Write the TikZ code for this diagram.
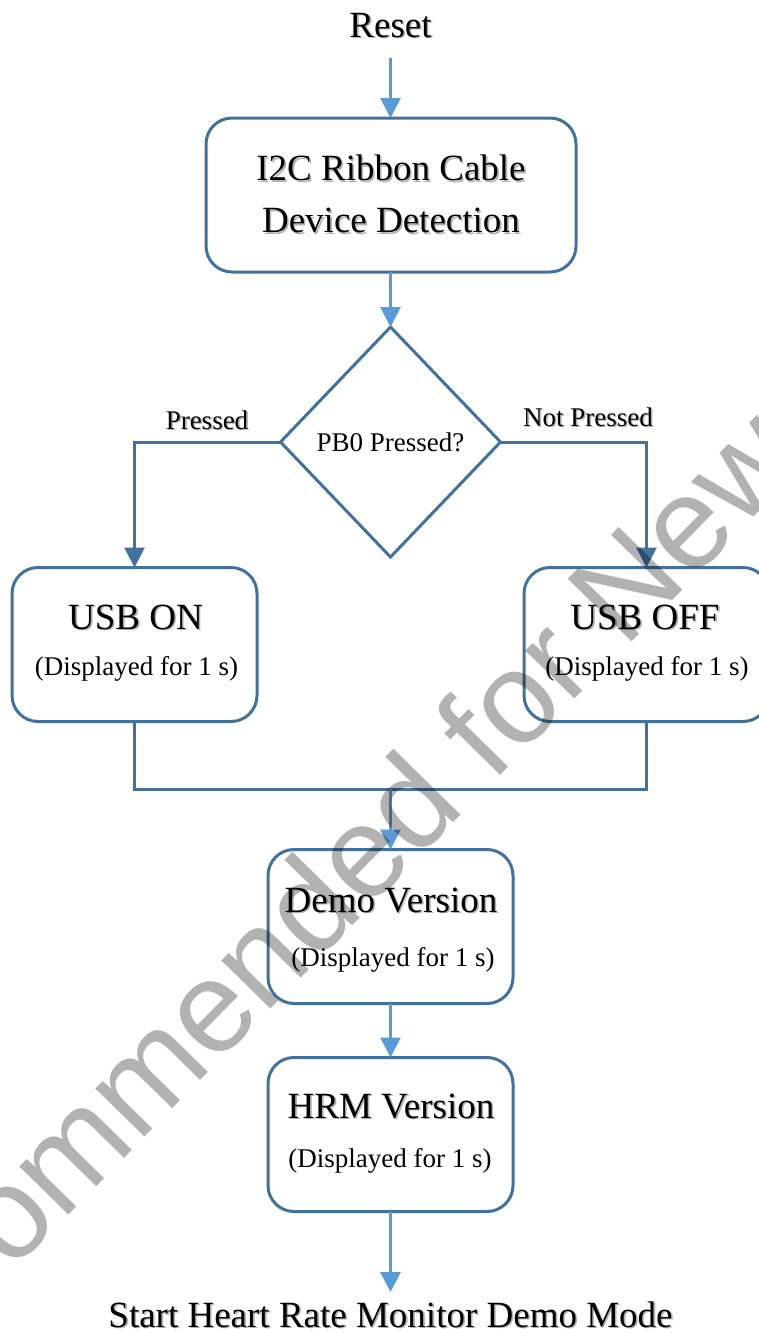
\documentclass[tikz,border=0pt]{standalone}
\usepackage{fontspec}
\setmainfont{Liberation Serif}
\newfontfamily\wmfont{Liberation Sans}
\usetikzlibrary{arrows.meta,shapes.geometric}
\definecolor{boxblue}{HTML}{41719C}
\definecolor{arrowblue}{HTML}{5B9BD5}
\newcommand\Shad[1]{\makebox[0pt][l]{\hspace{1.6pt}\raisebox{-1.6pt}{\textcolor{black!30}{#1}}}#1}

\begin{document}
\begin{tikzpicture}[y=-1pt,x=1pt,
	box/.style={draw=boxblue, line width=3pt, rounded corners=26pt, minimum width=245pt, minimum height=154pt, inner sep=0pt, outer sep=0pt},
	decision/.style={draw=boxblue, line width=3pt, diamond, minimum width=220pt, minimum height=230pt, inner sep=0pt, outer sep=0pt, font=\fontsize{27}{32}\selectfont},
	big/.style={anchor=base, inner sep=0pt, font=\fontsize{37}{44}\selectfont},
	small/.style={anchor=base, inner sep=0pt, font=\fontsize{27}{32}\selectfont},
	flow/.style={draw=arrowblue, line width=3pt, -{Triangle[width=20pt,length=20pt]}},
	branch/.style={draw=boxblue, line width=3pt, -{Triangle[width=20pt,length=20pt]}},
	joinline/.style={draw=boxblue, line width=3pt}]
	\newcommand\Shown{(Displayed for 1 s)}
	\useasboundingbox (0,0) rectangle (759,1333);

	\node[big] (reset) at (390.5,37) {\Shad{Reset}};
	\node[box, minimum width=370pt, align=center, font=\fontsize{37}{52}\selectfont] (detect) at (391,195) {\Shad{I2C Ribbon Cable}\\\Shad{Device Detection}};
	\node[decision] (pb) at (390.5,442) {PB0 Pressed?};
	\node[small] (pressed) at (207,429) {\Shad{Pressed}};
	\node[small] (notpressed) at (588,426) {\Shad{Not Pressed}};

	\node[box] (usbon) at (134.5,644.5) {};
	\node[big] (usbonA) at (135.5,629) {\Shad{USB ON}};
	\node[small] (usbonB) at (136.5,675) {\Shown};
	\node[box] (usboff) at (646.5,644.5) {};
	\node[big] (usboffA) at (645,629) {\Shad{USB OFF}};
	\node[small] (usboffB) at (647,675) {\Shown};

	\coordinate (join) at (390.5,789);
	\node[box] (demo) at (390.5,926.5) {};
	\node[big] (demoA) at (391,912) {\Shad{Demo Version}};
	\node[small] (demoB) at (393,966) {\Shown};
	\node[box] (hrm) at (390.5,1134.5) {};
	\node[big] (hrmA) at (391,1118) {\Shad{HRM Version}};
	\node[small] (hrmB) at (390,1167) {\Shown};
	\node[big] (start) at (390.5,1327) {\Shad{Start Heart Rate Monitor Demo Mode}};

	\draw[flow, shorten <=21pt] (reset.base) -- (reset.base |- detect.north);
	\draw[flow] (pb.north |- detect.south) -- (pb.north);
	\draw[branch] (pb.west) -| (usbon.north);
	\draw[branch] (pb.east) -| (usboff.north);
	\draw[joinline] (usbon.south) |- (join) -| (usboff.south);
	\draw[flow] (join) -- (demo.north);
	\draw[flow] (demo.south) -- (hrm.north);
	\draw[flow, shorten >=35pt] (hrm.south) -- (start.base);

	\node[anchor=base, inner sep=0pt, rotate=45.5, opacity=.3, font=\wmfont\fontsize{130}{150}\selectfont] (stamp) at (422,855) {Not Recommended for New Designs};
\end{tikzpicture}
\end{document}
